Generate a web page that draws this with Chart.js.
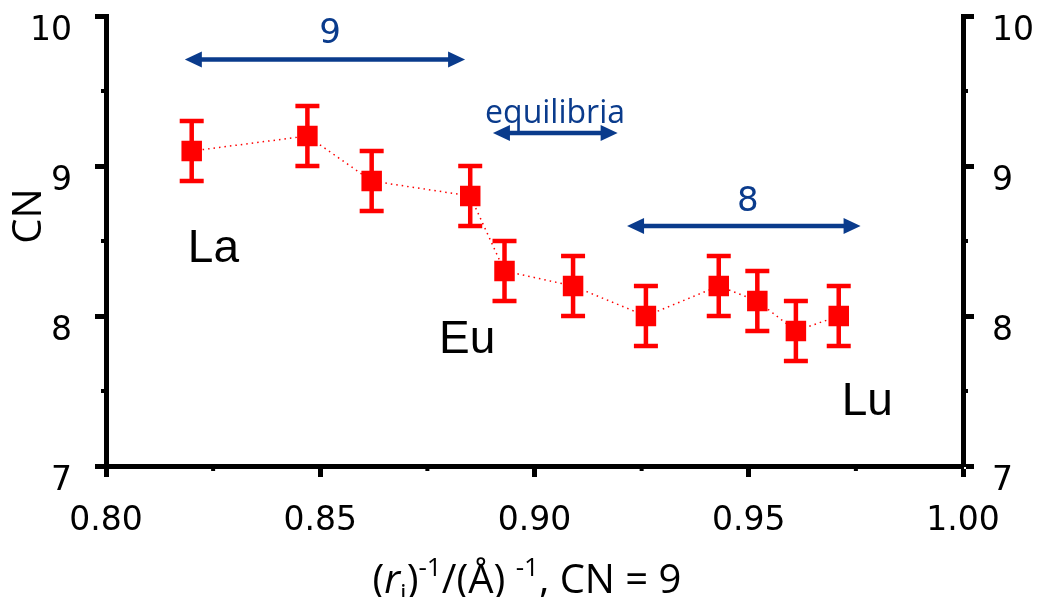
<!DOCTYPE html>
<html>
<head>
<meta charset="utf-8">
<script src="https://cdn.jsdelivr.net/npm/chart.js@4.4.1/dist/chart.umd.min.js"></script>
<style>
  body { margin: 0; background: #fff; }
  #wrap { width: 1039px; height: 597px; position: relative; }
</style>
</head>
<body>
<div id="wrap"><canvas id="myChart"></canvas></div>
<script>
// data
const ionRadiusInv = [0.820, 0.847, 0.862, 0.885, 0.893, 0.909, 0.926, 0.943, 0.952, 0.961, 0.971];
const coordNumber = [9.1, 9.2, 8.9, 8.8, 8.3, 8.2, 8.0, 8.2, 8.1, 7.9, 8.0];
const cnError = [0.2, 0.2, 0.2, 0.2, 0.2, 0.2, 0.2, 0.2, 0.2, 0.2, 0.2];

const xTickLabels = ['0.80', '0.85', '0.90', '0.95', '1.00'];
const yTickLabels = ['7', '8', '9', '10'];

// annotations in data units
const elementNames = ['La', 'Eu', 'Lu'];
const elementX = [0.8191, 0.8777, 0.9717];
const elementY = [8.36, 7.753, 7.34];

const arrowStart = [0.8184, 0.8903, 0.9216];
const arrowEnd = [0.8838, 0.9194, 0.9761];
const arrowY = [9.71, 9.22, 8.6];
const arrowText = ['9', 'equilibria', '8'];
const arrowTextX = [0.8523, 0.9048, 0.9498];
const arrowTextY = [9.88, 9.29, 8.76];

const RED = '#ff0000';
const NAVY = '#0a3b8c';
const TICK_FONT = { family: 'DejaVu Sans', size: 33 };

const errorBars = {
  id: 'errorBars',
  afterDatasetsDraw(chart) {
    const {ctx, scales: {x, y}} = chart;
    ctx.save();
    ctx.strokeStyle = RED;
    ctx.lineWidth = 4.5;
    ionRadiusInv.forEach(function(v, i) {
      const px = x.getPixelForValue(v);
      const top = y.getPixelForValue(coordNumber[i] + cnError[i]);
      const bot = y.getPixelForValue(coordNumber[i] - cnError[i]);
      ctx.beginPath();
      ctx.moveTo(px, top); ctx.lineTo(px, bot);
      ctx.moveTo(px - 12, top); ctx.lineTo(px + 12, top);
      ctx.moveTo(px - 12, bot); ctx.lineTo(px + 12, bot);
      ctx.stroke();
    });
    ctx.restore();
  }
};

const decorations = {
  id: 'decorations',
  afterDraw(chart) {
    const {ctx, scales: {x, y}, chartArea} = chart;
    ctx.save();

    // minor ticks
    ctx.fillStyle = '#000';
    [0.825, 0.875, 0.925, 0.975].forEach(function(v) {
      ctx.fillRect(x.getPixelForValue(v) - 2, chartArea.bottom, 4, 5);
    });
    [7.5, 8.5, 9.5].forEach(function(v) {
      const py = y.getPixelForValue(v);
      ctx.fillRect(chartArea.left - 5, py - 2, 5, 4);
      ctx.fillRect(chartArea.right, py - 2, 5, 4);
    });

    // element labels
    ctx.fillStyle = '#000';
    ctx.font = '46px "Liberation Sans"';
    ctx.textAlign = 'left';
    ctx.textBaseline = 'alphabetic';
    elementNames.forEach(function(t, i) {
      ctx.fillText(t, x.getPixelForValue(elementX[i]), y.getPixelForValue(elementY[i]));
    });

    // double arrows
    ctx.strokeStyle = NAVY;
    ctx.fillStyle = NAVY;
    ctx.lineWidth = 4.5;
    arrowStart.forEach(function(v, i) {
      const x1 = x.getPixelForValue(v), x2 = x.getPixelForValue(arrowEnd[i]);
      const py = y.getPixelForValue(arrowY[i]);
      const hl = 17, hh = 8;
      ctx.beginPath();
      ctx.moveTo(x1 + hl - 2, py); ctx.lineTo(x2 - hl + 2, py);
      ctx.stroke();
      ctx.beginPath();
      ctx.moveTo(x1, py); ctx.lineTo(x1 + hl, py - hh); ctx.lineTo(x1 + hl, py + hh); ctx.closePath();
      ctx.moveTo(x2, py); ctx.lineTo(x2 - hl, py - hh); ctx.lineTo(x2 - hl, py + hh); ctx.closePath();
      ctx.fill();
    });
    ctx.textAlign = 'center';
    arrowText.forEach(function(t, i) {
      const px = x.getPixelForValue(arrowTextX[i]);
      const py = y.getPixelForValue(arrowTextY[i]);
      if (t === 'equilibria') {
        ctx.font = '32px "Open Sans"';
        ctx.textBaseline = 'alphabetic';
      } else {
        ctx.font = '34px "DejaVu Sans"';
        ctx.textBaseline = 'middle';
      }
      ctx.fillText(t, px, py);
    });

    // y axis title
    ctx.fillStyle = '#000';
    ctx.font = '40px "Open Sans"';
    ctx.textAlign = 'center';
    ctx.textBaseline = 'middle';
    ctx.translate(30, 216);
    ctx.rotate(-Math.PI / 2);
    ctx.fillText('CN', 0, 0);
    ctx.setTransform(1, 0, 0, 1, 0, 0);

    // x axis title with sub/superscripts
    const base = 593;
    const parts = [
      {t: '(', f: '40px "Open Sans"', dy: 0},
      {t: 'r', f: 'italic 40px "Open Sans"', dy: 0},
      {t: 'i', f: '26px "Open Sans"', dy: 9},
      {t: ')', f: '40px "Open Sans"', dy: 0},
      {t: '-1', f: '26px "Open Sans"', dy: -17},
      {t: '/(Å) ', f: '40px "Open Sans"', dy: 0},
      {t: '-1', f: '26px "Open Sans"', dy: -17},
      {t: ', CN = 9', f: '40px "Open Sans"', dy: 0}
    ];
    let total = 0;
    parts.forEach(function(p) { ctx.font = p.f; p.w = ctx.measureText(p.t).width; total += p.w; });
    let cx = 527 - total / 2;
    ctx.textAlign = 'left';
    ctx.textBaseline = 'alphabetic';
    parts.forEach(function(p) {
      ctx.font = p.f;
      ctx.fillText(p.t, cx, base + p.dy);
      cx += p.w;
    });
    ctx.restore();
  }
};

const yAxis = function(pos, width, pad) {
  return {
    type: 'linear',
    position: pos,
    min: 7,
    max: 10,
    ticks: {
      stepSize: 1,
      color: '#000',
      font: TICK_FONT,
      padding: pad,
      labelOffset: 15,
      callback: function(v, i) { return yTickLabels[i]; }
    },
    grid: { drawOnChartArea: false, tickLength: 11, tickWidth: 5, tickColor: '#000' },
    border: { display: true, width: 5, color: '#000' },
    afterFit: function(scale) { scale.width = width; scale.paddingTop = 0; scale.paddingBottom = 0; }
  };
};

const ctx = document.getElementById('myChart').getContext('2d');
const myChart = new Chart(ctx, {
  type: 'scatter',
  data: {
    datasets: [{
      label: 'CN',
      data: ionRadiusInv.map(function(v, i) { return {x: v, y: coordNumber[i]}; }),
      showLine: true,
      borderColor: RED,
      borderWidth: 1.5,
      borderDash: [1.5, 4],
      pointStyle: 'rect',
      pointRadius: 14.5,
      pointHoverRadius: 14.5,
      pointBackgroundColor: RED,
      pointBorderWidth: 0,
      yAxisID: 'y'
    }]
  },
  options: {
    responsive: true,
    maintainAspectRatio: false,
    animation: false,
    layout: { padding: { top: 16, left: 0, right: 0, bottom: 0 } },
    plugins: { legend: { display: false }, tooltip: { enabled: false } },
    scales: {
      x: {
        type: 'linear',
        min: 0.8,
        max: 1.0,
        ticks: {
          stepSize: 0.05,
          color: '#000',
          font: TICK_FONT,
          padding: 25,
          maxRotation: 0,
          callback: function(v, i) { return xTickLabels[i]; }
        },
        grid: { drawOnChartArea: false, tickLength: 11, tickWidth: 5, tickColor: '#000' },
        border: { display: true, width: 5, color: '#000' },
        afterFit: function(scale) { scale.height = 131; scale.paddingLeft = 0; scale.paddingRight = 0; }
      },
      y: yAxis('left', 106, 23),
      y2: yAxis('right', 76, 18)
    }
  },
  plugins: [errorBars, decorations]
});
</script>
</body>
</html>
